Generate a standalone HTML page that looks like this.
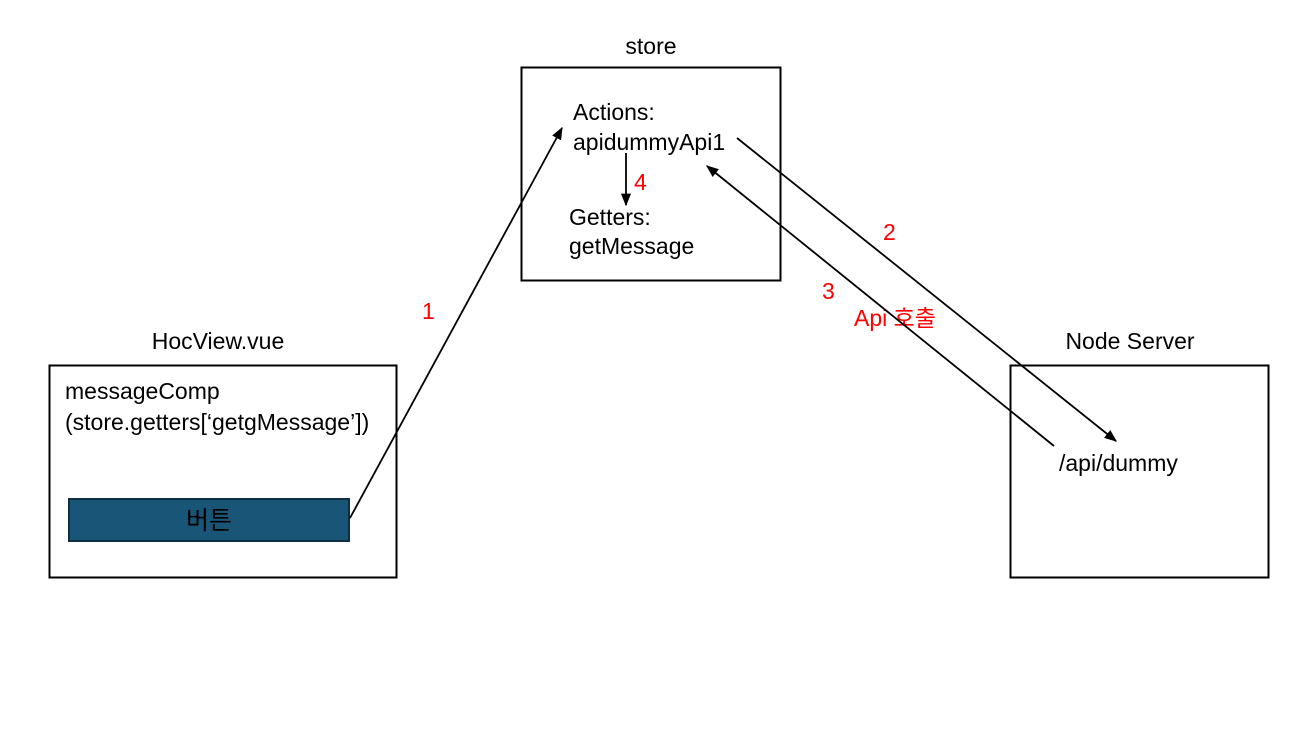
<!DOCTYPE html>
<html><head><meta charset="utf-8"><style>
html,body{margin:0;padding:0;background:#fff;width:1302px;height:731px;overflow:hidden}
text{font-family:"Liberation Sans","Noto Sans CJK KR",sans-serif;font-size:23px;fill:#000}
.r{fill:#ff0000}
</style></head><body>
<svg width="1302" height="731" viewBox="0 0 1302 731" xmlns="http://www.w3.org/2000/svg">
<defs><marker id="a" viewBox="0 0 10 10" refX="9" refY="5" markerWidth="7" markerHeight="7" orient="auto"><path d="M0,1 L10,5 L0,9 z" fill="#000"/></marker></defs>
<rect x="521.5" y="67.5" width="259" height="213" fill="none" stroke="#000" stroke-width="2"/>
<rect x="49.5" y="365.5" width="347" height="212" fill="none" stroke="#000" stroke-width="2"/>
<rect x="1010.5" y="365.5" width="258" height="212" fill="none" stroke="#000" stroke-width="2"/>
<rect x="69" y="499" width="280" height="42" fill="#185576" stroke="#0d2f40" stroke-width="2"/>
<text x="651" y="54" text-anchor="middle">store</text>
<text x="573" y="120">Actions:</text>
<text x="573" y="150">apidummyApi1</text>
<text x="569" y="225">Getters:</text>
<text x="569" y="254">getMessage</text>
<text x="218" y="349" text-anchor="middle">HocView.vue</text>
<text x="65" y="399">messageComp</text>
<text x="65" y="430">(store.getters[‘getgMessage’])</text>
<text x="209" y="529" text-anchor="middle" style="font-size:25px">버튼</text>
<text x="1130" y="349" text-anchor="middle">Node Server</text>
<text x="1059" y="471">/api/dummy</text>
<text class="r" x="422" y="319">1</text>
<text class="r" x="883" y="240">2</text>
<text class="r" x="822" y="299">3</text>
<text class="r" x="854" y="326">Api 호출</text>
<text class="r" x="634" y="190">4</text>
<g stroke="#000" stroke-width="1.8" fill="none">
<line x1="350" y1="518" x2="562" y2="128" marker-end="url(#a)"/>
<line x1="737" y1="138" x2="1116" y2="441" marker-end="url(#a)"/>
<line x1="1054" y1="446" x2="707" y2="166" marker-end="url(#a)"/>
<line x1="626" y1="153" x2="626" y2="205" marker-end="url(#a)"/>
</g>
</svg>
</body></html>
